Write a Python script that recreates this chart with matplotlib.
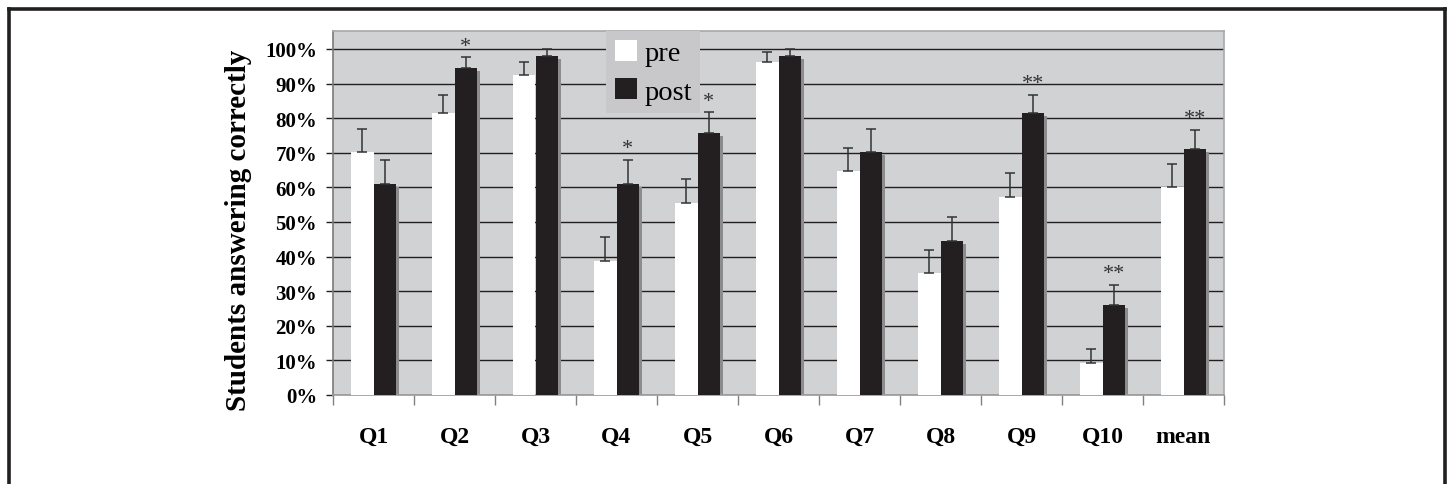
import numpy as np
import matplotlib
matplotlib.use("Agg")
import matplotlib.pyplot as plt
import matplotlib.transforms as mtransforms
from matplotlib.patches import Patch
from matplotlib.lines import Line2D

categories = ["Q1", "Q2", "Q3", "Q4", "Q5", "Q6", "Q7", "Q8", "Q9", "Q10", "mean"]
pre = [70.3, 81.6, 92.6, 38.8, 55.5, 96.2, 64.8, 35.2, 57.3, 9.2, 60.2]
post = [61.0, 94.4, 98.1, 61.0, 75.8, 98.1, 70.3, 44.4, 81.6, 25.9, 71.0]
pre_err = [6.5, 5.2, 3.6, 7.0, 7.0, 2.8, 6.7, 6.7, 7.0, 4.2, 6.7]
post_err = [7.0, 3.2, 2.0, 7.0, 6.0, 2.0, 6.5, 7.0, 5.2, 6.0, 5.7]
stars = ["", "*", "", "*", "*", "", "", "", "**", "**", "**"]
yticks = [0, 10, 20, 30, 40, 50, 60, 70, 80, 90, 100]
ytick_labels = ["0%", "10%", "20%", "30%", "40%", "50%", "60%", "70%", "80%", "90%", "100%"]

SERIF = ["Liberation Serif", "DejaVu Serif"]
BLACK = "#231f20"
BG = "#d1d2d4"

W, H, DPI = 1448, 485, 100
fig = plt.figure(figsize=(W / DPI, H / DPI), dpi=DPI)
fig.patch.set_facecolor("white")

ax = fig.add_axes([333 / W, 1 - 396 / H, (1224 - 333) / W, (396 - 32) / H])
ax.set_facecolor(BG)

x = np.arange(len(categories))
bw = 0.28
off = 0.14

# shadow for post bars
shadow_tr = ax.transData + mtransforms.ScaledTranslation(3 / DPI, -3 / DPI, fig.dpi_scale_trans)
ax.bar(x + off, post, width=bw, color="#8c8c8c", transform=shadow_tr, zorder=2, linewidth=0)

ax.bar(x - off, pre, width=bw, color="white", zorder=3, linewidth=0)
ax.bar(x + off, post, width=bw, color=BLACK, zorder=3, linewidth=0)

ecol = "#333333"
ax.errorbar(x - off, pre, yerr=[np.zeros(len(pre)), pre_err], fmt="none",
            ecolor=ecol, elinewidth=1.1, capsize=3.6, capthick=1.1, zorder=4)
ax.errorbar(x + off, post, yerr=[np.zeros(len(post)), post_err], fmt="none",
            ecolor=ecol, elinewidth=1.1, capsize=3.6, capthick=1.1, zorder=4)

for xi, v, e, s in zip(x, post, post_err, stars):
    if s:
        ax.annotate(s, (xi + off, v + e), xytext=(0, 1), textcoords="offset points",
                    ha="center", va="bottom", fontsize=16, family=SERIF,
                    color="#333333", zorder=5)

ax.set_xlim(-0.5, len(categories) - 0.5)
ax.set_ylim(0, 105.2)

# gridlines
ax.set_yticks(yticks)
ax.set_yticklabels(ytick_labels, fontsize=15, fontweight="bold", family=SERIF)
ax.yaxis.grid(True, color=BLACK, linewidth=1.0, zorder=1)
ax.set_axisbelow(True)
ax.tick_params(axis="y", direction="out", length=5, width=1.0, color=BLACK, pad=6.5)

ax.set_xticks(x)
ax.set_xticklabels(categories, fontsize=17, fontweight="bold", family=SERIF)
ax.tick_params(axis="x", which="major", length=0, pad=22)
ax.set_xticks(np.arange(-0.5, len(categories), 1.0), minor=True)
ax.tick_params(axis="x", which="minor", direction="out", length=7, width=1.0, color="#808080")

for side, col in [("left", "#7a7a7a"), ("bottom", "#9a9a9a"), ("top", "#a8a8a8"), ("right", "#a8a8a8")]:
    ax.spines[side].set_color(col)
    ax.spines[side].set_linewidth(1.2)

ax.set_ylabel("Students answering correctly", fontsize=21, fontweight="bold", family=SERIF)
ax.yaxis.set_label_coords((238 - 333) / (1224 - 333), (396 - 230) / (396 - 32))
ax.yaxis.label.set_va("center")

handles = [Patch(facecolor="white", edgecolor="none", label="pre"),
           Patch(facecolor=BLACK, edgecolor="none", label="post")]
leg = ax.legend(handles=handles, loc="upper left",
                bbox_to_anchor=((606 - 333) / (1224 - 333), 1.0),
                borderaxespad=0, frameon=True, fancybox=False,
                prop={"family": SERIF, "size": 20.5},
                handlelength=0.8, handleheight=0.8, handletextpad=0.25,
                borderpad=0.3, labelspacing=0.4)
leg.get_frame().set_facecolor("#c8c8ca")
leg.get_frame().set_edgecolor("none")
leg.get_frame().set_alpha(1)
leg.set_zorder(6)

# outer frame
fc = BLACK
fig.add_artist(Line2D([8.5 / W, 1444.5 / W], [1 - 10 / H, 1 - 10 / H], color=fc, lw=2.6,
                      transform=fig.transFigure, solid_capstyle="projecting"))
fig.add_artist(Line2D([8.5 / W, 8.5 / W], [1 - 10 / H, -0.05], color=fc, lw=2.6,
                      transform=fig.transFigure))
fig.add_artist(Line2D([1444.5 / W, 1444.5 / W], [1 - 10 / H, -0.05], color=fc, lw=2.6,
                      transform=fig.transFigure))

fig.savefig("out.png", dpi=DPI)
